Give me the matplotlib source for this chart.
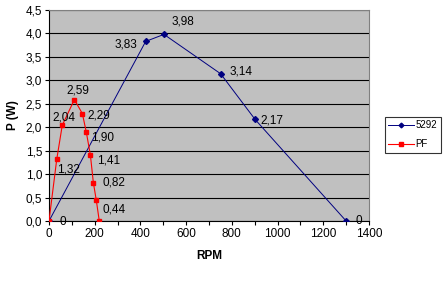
import matplotlib.pyplot as plt
from matplotlib.ticker import MultipleLocator, FuncFormatter

plt.rcParams['font.family'] = ['Liberation Sans', 'DejaVu Sans']

rpm_5292 = [0, 423, 503, 751, 901, 1300]
p_5292 = [0, 3.83, 3.98, 3.14, 2.17, 0]
labels_5292 = ['', '3,83', '3,98', '3,14', '2,17', '0']

rpm_pf = [0, 34, 58, 111, 146, 163, 181, 194, 207, 220]
p_pf = [0, 1.32, 2.04, 2.59, 2.29, 1.90, 1.41, 0.82, 0.44, 0]
labels_pf = ['0', '1,32', '2,04', '2,59', '2,29', '1,90', '1,41', '0,82', '0,44', '']

fig = plt.figure(figsize=(4.43, 2.85), dpi=100)
ax = fig.add_axes([49 / 443, 1 - 221 / 285, 320 / 443, 211 / 285])
ax.set_facecolor('#c0c0c0')

l1, = ax.plot(rpm_5292, p_5292, color='#000080', marker='D', markersize=3, lw=0.7, label='5292', zorder=3)
l2, = ax.plot(rpm_pf, p_pf, color='#ff0000', marker='s', markersize=3.5, lw=0.8, label='PF', zorder=4)

# deslocamento dos rotulos (dx, dy em pixels, alinhamento)
off_5292 = [(0, 0, 'left'), (-8, -3, 'right'), (8, 13, 'left'), (9, 2, 'left'),
            (5, -1, 'left'), (9, 0, 'left')]
off_pf = [(10, -1, 'left'), (0, -10, 'left'), (-10, 8, 'left'), (-8, 9, 'left'),
          (5, -2, 'left'), (5, -6, 'left'), (7, -6, 'left'), (9, 0, 'left'),
          (6, -9, 'left'), (0, 0, 'left')]

for x, y, t, o in zip(rpm_5292, p_5292, labels_5292, off_5292):
    if t:
        ax.annotate(t, (x, y), xytext=o[:2], textcoords='offset pixels', fontsize=8.5,
                    ha=o[2], va='center', zorder=5)
for x, y, t, o in zip(rpm_pf, p_pf, labels_pf, off_pf):
    if t:
        ax.annotate(t, (x, y), xytext=o[:2], textcoords='offset pixels', fontsize=8.5,
                    ha=o[2], va='center', zorder=5)

ax.set_xlim(0, 1400)
ax.set_ylim(0, 4.5)
ax.xaxis.set_major_locator(MultipleLocator(200))
ax.xaxis.set_minor_locator(MultipleLocator(100))
ax.yaxis.set_major_locator(MultipleLocator(0.5))
ax.yaxis.set_major_formatter(FuncFormatter(lambda v, p: f'{v:.1f}'.replace('.', ',')))
ax.tick_params(axis='both', labelsize=8.5, direction='out', length=3, width=0.8, pad=2)
ax.tick_params(axis='x', which='minor', length=3, width=0.8)
ax.grid(True, axis='y', color='black', lw=0.8)
ax.set_axisbelow(True)
for s in ['top', 'right']:
    ax.spines[s].set_color('#808080')
ax.spines['left'].set_color('black')
ax.spines['bottom'].set_color('black')

ax.set_xlabel('RPM', fontsize=8.5, fontweight='bold', labelpad=7)
ax.set_ylabel('P (W)', fontsize=8.5, fontweight='bold', labelpad=5)

leg = fig.legend(handles=[l1, l2], loc='upper left', bbox_to_anchor=(385 / 443, 1 - 117 / 285),
                 fontsize=7, frameon=True, fancybox=False, edgecolor='black',
                 handlelength=2.6, borderpad=0.35, labelspacing=0.9, handletextpad=0.2,
                 borderaxespad=0, markerscale=0.8)
leg.get_frame().set_linewidth(0.8)

fig.savefig('out.png', dpi=100)
